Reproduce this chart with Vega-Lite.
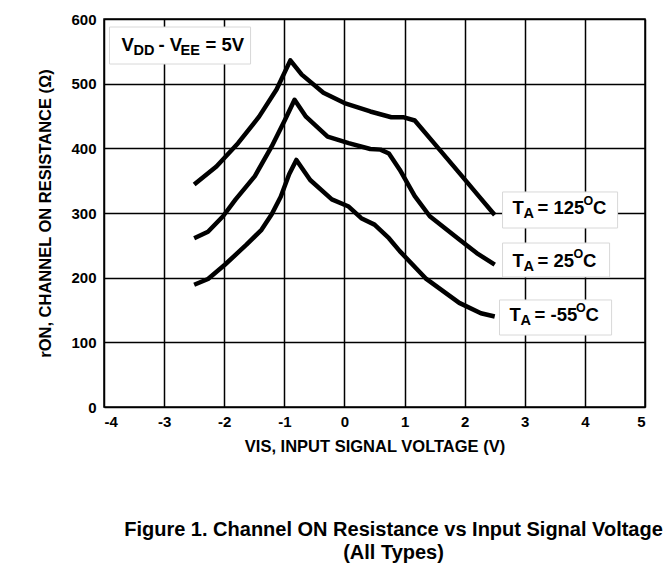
{
  "$schema": "https://vega.github.io/schema/vega-lite/v6.json",
  "autosize": {"type": "none"},
  "padding": {"left": 104, "top": 19, "right": 24, "bottom": 164},
  "width": 541,
  "height": 388,
  "background": "white",
  "config": {
    "font": "Liberation Sans, Arial, sans-serif",
    "view": {"stroke": "black", "strokeWidth": 1.5},
    "axis": {
      "grid": true, "gridColor": "black", "gridWidth": 1.5, "gridOpacity": 1,
      "ticks": false, "domain": false,
      "labelFontSize": 15, "labelFontWeight": "bold", "labelColor": "black",
      "titleFontSize": 16.5, "titleFontWeight": "bold", "titleColor": "black"
    }
  },
  "title": {
    "text": ["Figure 1. Channel ON Resistance vs Input Signal Voltage", "(All Types)"],
    "orient": "bottom", "anchor": "middle", "dx": 19, "offset": 65,
    "fontSize": 20, "fontWeight": "bold", "color": "black", "lineHeight": 23
  },
  "datasets": {
    "curves": [
      {"series": "125", "v": -2.5, "r": 344}, {"series": "125", "v": -2.13, "r": 372}, {"series": "125", "v": -1.77, "r": 408},
      {"series": "125", "v": -1.42, "r": 449}, {"series": "125", "v": -1.13, "r": 491}, {"series": "125", "v": -0.9, "r": 536},
      {"series": "125", "v": -0.71, "r": 514}, {"series": "125", "v": -0.35, "r": 486}, {"series": "125", "v": 0, "r": 470},
      {"series": "125", "v": 0.43, "r": 457}, {"series": "125", "v": 0.78, "r": 448}, {"series": "125", "v": 0.99, "r": 448},
      {"series": "125", "v": 1.17, "r": 443}, {"series": "125", "v": 1.49, "r": 408}, {"series": "125", "v": 1.91, "r": 362},
      {"series": "125", "v": 2.2, "r": 330}, {"series": "125", "v": 2.5, "r": 297},
      {"series": "25", "v": -2.5, "r": 261}, {"series": "25", "v": -2.27, "r": 271}, {"series": "25", "v": -2.02, "r": 295},
      {"series": "25", "v": -1.81, "r": 321}, {"series": "25", "v": -1.49, "r": 357}, {"series": "25", "v": -1.21, "r": 403},
      {"series": "25", "v": -0.99, "r": 444}, {"series": "25", "v": -0.83, "r": 475}, {"series": "25", "v": -0.64, "r": 449},
      {"series": "25", "v": -0.28, "r": 418}, {"series": "25", "v": 0.07, "r": 408}, {"series": "25", "v": 0.43, "r": 399},
      {"series": "25", "v": 0.6, "r": 398}, {"series": "25", "v": 0.74, "r": 392}, {"series": "25", "v": 0.92, "r": 367},
      {"series": "25", "v": 1.17, "r": 326}, {"series": "25", "v": 1.42, "r": 295}, {"series": "25", "v": 1.91, "r": 259},
      {"series": "25", "v": 2.2, "r": 238}, {"series": "25", "v": 2.5, "r": 220},
      {"series": "-55", "v": -2.5, "r": 189}, {"series": "-55", "v": -2.27, "r": 198}, {"series": "-55", "v": -1.99, "r": 220},
      {"series": "-55", "v": -1.63, "r": 251}, {"series": "-55", "v": -1.38, "r": 274}, {"series": "-55", "v": -1.21, "r": 298},
      {"series": "-55", "v": -1.06, "r": 325}, {"series": "-55", "v": -0.92, "r": 360}, {"series": "-55", "v": -0.8, "r": 382},
      {"series": "-55", "v": -0.57, "r": 351}, {"series": "-55", "v": -0.21, "r": 321}, {"series": "-55", "v": 0.07, "r": 310},
      {"series": "-55", "v": 0.28, "r": 292}, {"series": "-55", "v": 0.5, "r": 282}, {"series": "-55", "v": 0.74, "r": 261},
      {"series": "-55", "v": 0.92, "r": 241}, {"series": "-55", "v": 1.35, "r": 199}, {"series": "-55", "v": 1.91, "r": 161},
      {"series": "-55", "v": 2.27, "r": 145}, {"series": "-55", "v": 2.5, "r": 140}
    ],
    "boxes": [
      {"g": "vdd", "x1": -3.908, "x2": -1.562, "y1": 587.6, "y2": 530.4},
      {"g": "125", "x1": 2.63, "x2": 4.544, "y1": 332.5, "y2": 276.8},
      {"g": "25", "x1": 2.63, "x2": 4.411, "y1": 253.6, "y2": 201.0},
      {"g": "-55", "x1": 2.58, "x2": 4.444, "y1": 165.5, "y2": 111.3}
    ],
    "labels": [
      {"g": "vdd", "role": "main", "t": "V", "x": -3.708, "y": 559.8},
      {"g": "vdd", "role": "sub", "t": "DD", "x": -3.508, "y": 559.8},
      {"g": "vdd", "role": "main", "t": "- V", "x": -3.093, "y": 559.8},
      {"g": "vdd", "role": "sub", "t": "EE", "x": -2.727, "y": 559.8},
      {"g": "vdd", "role": "main", "t": "= 5V", "x": -2.31, "y": 559.8},
      {"g": "125", "role": "main", "t": "T", "x": 2.797, "y": 308},
      {"g": "125", "role": "sub", "t": "A", "x": 2.98, "y": 308},
      {"g": "125", "role": "main", "t": "= 125", "x": 3.212, "y": 308},
      {"g": "125", "role": "sup", "t": "O", "x": 3.978, "y": 308},
      {"g": "125", "role": "main", "t": "C", "x": 4.136, "y": 308},
      {"g": "25", "role": "main", "t": "T", "x": 2.797, "y": 225.8},
      {"g": "25", "role": "sub", "t": "A", "x": 2.98, "y": 225.8},
      {"g": "25", "role": "main", "t": "= 25", "x": 3.212, "y": 225.8},
      {"g": "25", "role": "sup", "t": "O", "x": 3.811, "y": 225.8},
      {"g": "25", "role": "main", "t": "C", "x": 3.969, "y": 225.8},
      {"g": "-55", "role": "main", "t": "T", "x": 2.747, "y": 142.3},
      {"g": "-55", "role": "sub", "t": "A", "x": 2.93, "y": 142.3},
      {"g": "-55", "role": "main", "t": "= -55", "x": 3.163, "y": 142.3},
      {"g": "-55", "role": "sup", "t": "O", "x": 3.853, "y": 142.3},
      {"g": "-55", "role": "main", "t": "C", "x": 4.011, "y": 142.3}
    ]
  },
  "layer": [
    {
      "data": {"name": "curves"},
      "mark": {"type": "line", "color": "black", "strokeWidth": 4.5, "strokeJoin": "round", "strokeCap": "butt"},
      "encoding": {
        "x": {"field": "v", "type": "quantitative",
              "scale": {"domain": [-4, 5], "nice": false, "zero": false},
              "axis": {"values": [-4, -3, -2, -1, 0, 1, 2, 3, 4, 5], "format": "d", "labelPadding": 7, "labelExpr": "replace(datum.label, '−', '-')",
                       "title": "VIS, INPUT SIGNAL VOLTAGE (V)", "titlePadding": 9}},
        "y": {"field": "r", "type": "quantitative",
              "scale": {"domain": [0, 600], "nice": false},
              "axis": {"values": [0, 100, 200, 300, 400, 500, 600], "format": "d", "labelPadding": 8,
                       "title": "rON, CHANNEL ON RESISTANCE (Ω)", "titlePadding": 17}},
        "detail": {"field": "series", "type": "nominal"}
      }
    },
    {
      "data": {"name": "boxes"},
      "mark": {"type": "rect", "fill": "white", "stroke": "#d8d8d8", "strokeWidth": 1},
      "encoding": {
        "x": {"field": "x1", "type": "quantitative"},
        "x2": {"field": "x2"},
        "y": {"field": "y1", "type": "quantitative"},
        "y2": {"field": "y2"}
      }
    },
    {
      "data": {"name": "labels"},
      "transform": [{"filter": "datum.role === 'main'"}],
      "mark": {"type": "text", "align": "left", "baseline": "middle", "fontSize": 18.5, "fontWeight": "bold", "color": "black"},
      "encoding": {
        "x": {"field": "x", "type": "quantitative"},
        "y": {"field": "y", "type": "quantitative"},
        "text": {"field": "t"}
      }
    },
    {
      "data": {"name": "labels"},
      "transform": [{"filter": "datum.role === 'sub'"}],
      "mark": {"type": "text", "align": "left", "baseline": "middle", "fontSize": 14.5, "fontWeight": "bold", "color": "black", "dy": 6},
      "encoding": {
        "x": {"field": "x", "type": "quantitative"},
        "y": {"field": "y", "type": "quantitative"},
        "text": {"field": "t"}
      }
    },
    {
      "data": {"name": "labels"},
      "transform": [{"filter": "datum.role === 'sup'"}],
      "mark": {"type": "text", "align": "left", "baseline": "middle", "fontSize": 12.5, "fontWeight": "bold", "color": "black", "dy": -7},
      "encoding": {
        "x": {"field": "x", "type": "quantitative"},
        "y": {"field": "y", "type": "quantitative"},
        "text": {"field": "t"}
      }
    }
  ]
}
